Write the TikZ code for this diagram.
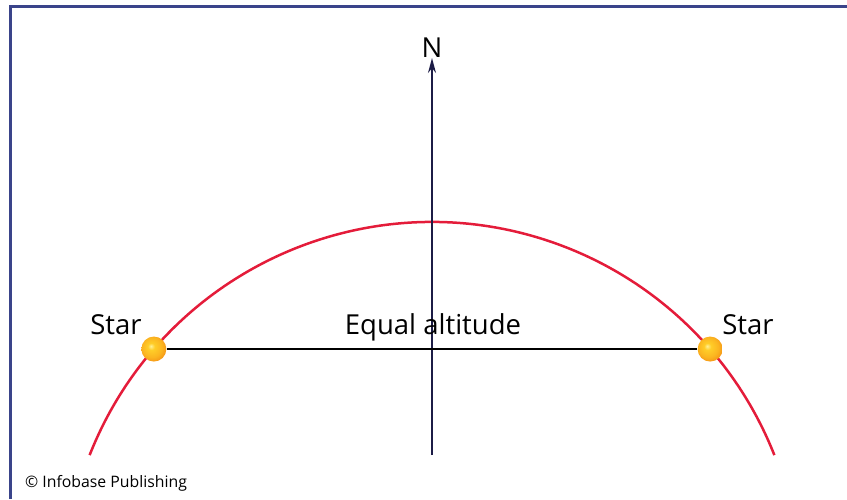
\documentclass[tikz,border=0pt]{standalone}
\usepackage{fontspec}
\setmainfont{Open Sans}
\usetikzlibrary{positioning,arrows.meta,calc}
\definecolor{framec}{RGB}{58,68,138}
\definecolor{arcred}{RGB}{228,28,58}
\definecolor{navy}{RGB}{28,28,70}
\definecolor{ballhi}{RGB}{255,240,150}
\definecolor{ballmid}{RGB}{255,205,40}
\definecolor{ballrim}{RGB}{245,145,20}
\pgfdeclareradialshading{starball}{\pgfpoint{-6bp}{6bp}}{%
  color(0bp)=(ballhi); color(7bp)=(ballmid); color(20bp)=(ballmid!60!ballrim);
  color(30bp)=(ballrim); color(50bp)=(ballrim)}

\begin{document}
\begin{tikzpicture}[
  x=1pt, y=1pt,
  label/.style={font=\fontsize{27.5}{30}\selectfont, inner sep=0pt},
  ball/.style={circle, minimum size=25pt, inner sep=0pt, shading=starball},
  arrow/.style={-{Stealth[length=15pt,width=8pt]}, line width=1.5pt, draw=navy}
]
  \useasboundingbox (0,0) rectangle (847,499);
  % frame, top and left only
  \draw[framec, line width=3pt] (10,0) -- (10,492) -- (847,492);

  % horizon arc
  \coordinate (centre) at (432,-91);
  \draw[arcred, line width=2.5pt] (centre) ++(158.5:368) arc[start angle=158.5, end angle=21.5, radius=368];

  \coordinate (base) at (432,44);
  \node (north) [label, anchor=south] at (432,441) {N};
  \draw [arrow] (base) -- (north.south);

  \node (left) [ball] at ($(centre)+(139.1:368)$) {};
  \node (right) [ball] at ($(centre)+(40.9:368)$) {};
  \draw [line width=1.4pt, black] (left) -- (right);
  \node (equal) [label, anchor=base] at (433,165) {Equal altitude};
  \node (starl) [label, anchor=base] at (116,165) {Star};
  \node (starr) [label, anchor=base] at (748,165) {Star};

  \node (credit) [font=\fontsize{15.8}{18}\selectfont, anchor=base west, inner sep=0pt] at (25,12) {© Infobase Publishing};
\end{tikzpicture}
\end{document}
